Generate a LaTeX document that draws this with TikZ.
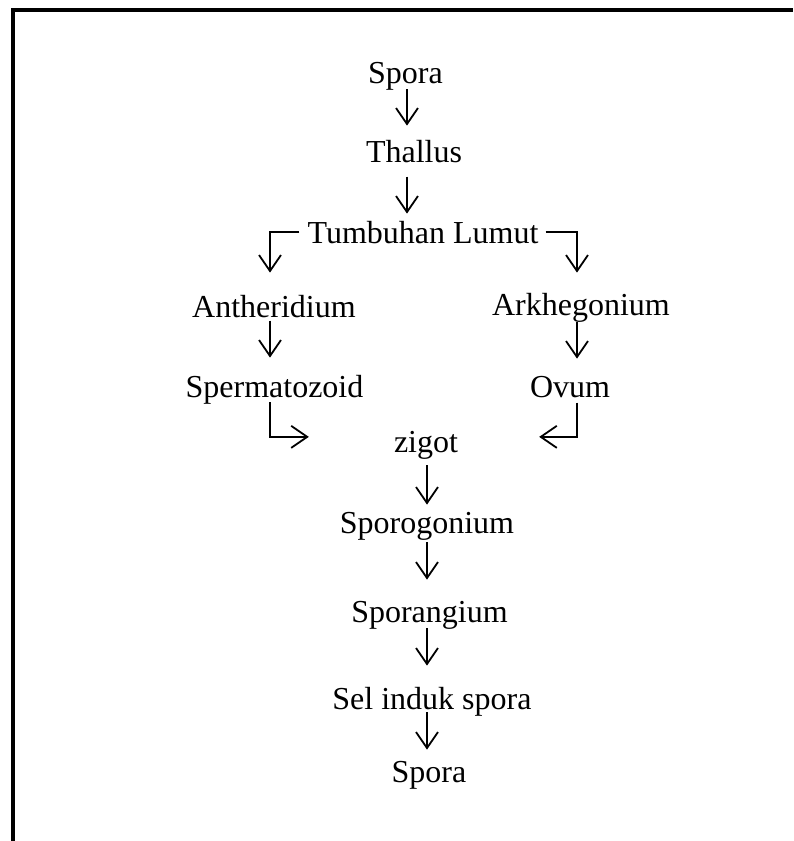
\documentclass[tikz,border=0pt]{standalone}
\usepackage{fontspec}
\setmainfont{Liberation Serif}
\usetikzlibrary{arrows.meta,positioning,calc}

\begin{document}
\begin{tikzpicture}[x=1pt,y=-1pt,
    stage/.style={anchor=base,inner sep=0pt,font=\fontsize{32}{38}\selectfont},
    flow/.style={line width=1.8pt,-{Straight Barb[length=16pt,width=22pt]}}]
    \useasboundingbox (0,0) rectangle (793,841);
    % frame (only top and left edges show)
    \draw[line width=4pt] (13,841) -- (13,10) -- (793,10);

    % columns the arrows run along
    \coordinate (axisA) at (407,0);
    \coordinate (axisB) at (427,0);
    \coordinate (axisL) at (270,0);
    \coordinate (axisR) at (577,0);

    \node[stage] (spora1)   at (405.5,83) {Spora};
    \node[stage] (thallus)  at (414,162)  {Thallus};
    \node[stage] (tumbuhan) at (423,243)  {Tumbuhan Lumut};
    \node[stage] (anther)   at (274,317)  {Antheridium};
    \node[stage] (arkhe)    at (581,315)  {Arkhegonium};
    \node[stage] (sperma)   at (274.5,397) {Spermatozoid};
    \node[stage] (ovum)     at (570,397)  {Ovum};
    \node[stage] (zigot)    at (426,452)  {zigot};
    \node[stage] (sporogon) at (427,533)  {Sporogonium};
    \node[stage] (sporang)  at (429.5,622) {Sporangium};
    \node[stage] (selinduk) at (432,709)  {Sel induk spora};
    \node[stage] (spora2)   at (429,782)  {Spora};

    % main line
    \draw[flow,shorten <=-1pt,shorten >=14pt] (spora1.south -| axisA) -- (thallus.north -| axisA);
    \draw[flow,shorten <=14pt,shorten >=7pt] (thallus.south -| axisA) -- (tumbuhan.north -| axisA);

    % split
    \draw[flow,shorten <=8pt,shorten >=22pt] (tumbuhan.west) -- (tumbuhan.west -| axisL) -- (anther.north -| axisL);
    \draw[flow,shorten <=7pt,shorten >=20pt] (tumbuhan.east) -- (tumbuhan.east -| axisR) -- (arkhe.north -| axisR);
    \draw[flow,shorten <=3pt,shorten >=17pt] (anther.south -| axisL) -- (sperma.north -| axisL);
    \draw[flow,shorten <=0pt,shorten >=17pt] (arkhe.south -| axisR) -- (ovum.north -| axisR);

    % join at zigot
    \draw[flow,shorten <=-2pt,shorten >=85pt] (sperma.south -| axisL) -- ([yshift=8pt]zigot.west -| axisL) -- ([yshift=8pt]zigot.west);
    \draw[flow,shorten <=5pt,shorten >=81pt] (ovum.south -| axisR) -- ([yshift=8pt]zigot.east -| axisR) -- ([yshift=8pt]zigot.east);

    % lower line
    \draw[flow,shorten <=6pt,shorten >=7pt] (zigot.south -| axisB) -- (sporogon.north -| axisB);
    \draw[flow,shorten <=2pt,shorten >=21pt] (sporogon.south -| axisB) -- (sporang.north -| axisB);
    \draw[flow,shorten <=-1pt,shorten >=21pt] (sporang.south -| axisB) -- (selinduk.north -| axisB);
    \draw[flow,shorten <=-4pt,shorten >=11pt] (selinduk.south -| axisB) -- (spora2.north -| axisB);
\end{tikzpicture}
\end{document}
